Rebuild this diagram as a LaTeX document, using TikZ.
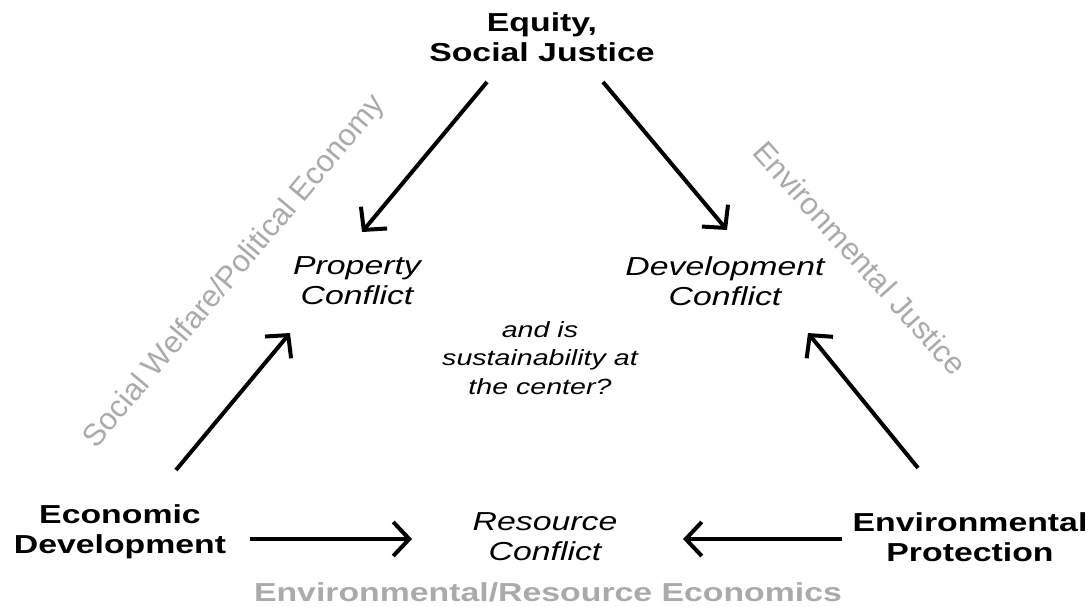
\documentclass[tikz,border=0pt]{standalone}
\usepackage{fontspec}
\setmainfont[FakeStretch=1.3]{Liberation Sans}
\newfontfamily\rotfont{Liberation Sans}
\usetikzlibrary{arrows.meta}
\definecolor{lightgrey}{HTML}{AAAAAA}
\tikzset{
  main/.style={align=center, font=\fontsize{26}{30}\selectfont\bfseries, inner sep=0pt},
  conflict/.style={align=center, font=\fontsize{26}{30}\selectfont\itshape, inner sep=0pt},
  centertext/.style={align=center, font=\fontsize{22}{28.5}\selectfont\itshape, inner sep=0pt},
  field/.style={text=lightgrey, font=\fontsize{26}{30}\selectfont\bfseries, inner sep=0pt},
  rotfield/.style={text=lightgrey, font=\rotfont\fontsize{30.8}{34}\selectfont, inner sep=0pt},
  arr/.style={line width=4pt, -{Straight Barb[length=16pt,width=34pt,line width=4pt]}}
}
\begin{document}
\begin{tikzpicture}[x=1pt,y=-1pt]
\useasboundingbox (0,0) rectangle (1092,606);
\node[main] (eq) at (542,37) {Equity,\\Social Justice};
\node[conflict] (prop) at (357,281) {Property\\Conflict};
\node[conflict] (dev) at (725,281) {Development\\Conflict};
\node[centertext] (center) at (540,358) {and is\\sustainability at\\the center?};
\node[main] (econ) at (120,532) {Economic\\Development};
\node[main] (env) at (970,537) {Environmental\\Protection};
\node[conflict] (res) at (545,537) {Resource\\Conflict};
\node[field] (ere) at (548,592) {Environmental/Resource Economics};
\node[rotfield, rotate=50] (swpe) at (235,272) {Social Welfare/Political Economy};
\node[rotfield, rotate=-48] (ej) at (860,258) {Environmental Justice};

\coordinate (a1s) at (487,82);  \coordinate (a1e) at (362,232);
\coordinate (a2s) at (603,82);  \coordinate (a2e) at (727,230);
\coordinate (a3s) at (176,470); \coordinate (a3e) at (290,333);
\coordinate (a4s) at (918,468); \coordinate (a4e) at (808,333);
\coordinate (a5s) at (250,539); \coordinate (a5e) at (412,539);
\coordinate (a6s) at (842,539); \coordinate (a6e) at (683,539);
\draw[arr] (a1s) -- (a1e);
\draw[arr] (a2s) -- (a2e);
\draw[arr] (a3s) -- (a3e);
\draw[arr] (a4s) -- (a4e);
\draw[arr] (a5s) -- (a5e);
\draw[arr] (a6s) -- (a6e);
\end{tikzpicture}
\end{document}
